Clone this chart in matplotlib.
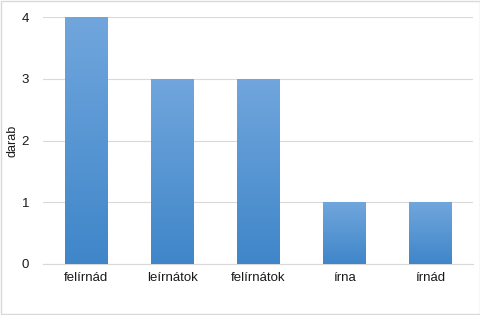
import numpy as np
import matplotlib
matplotlib.use('Agg')
import matplotlib.pyplot as plt
from matplotlib.colors import LinearSegmentedColormap
from matplotlib.patches import Rectangle

categories = ['felírnád', 'leírnátok', 'felírnátok', 'írna', 'írnád']
values = [4, 3, 3, 1, 1]
yticks = [0, 1, 2, 3, 4]

plt.rcParams['font.family'] = ['Liberation Sans', 'DejaVu Sans']

fig = plt.figure(figsize=(4.81, 3.15), dpi=100)
ax = fig.add_axes([43 / 481, 1 - 264 / 315, 430 / 481, 247 / 315])

x = np.arange(len(categories))
bars = ax.bar(x, values, width=0.5, facecolor='none', edgecolor='none', zorder=3)

cmap = LinearSegmentedColormap.from_list('grad', ['#3f86c9', '#71a6dd'])
grad = np.linspace(0, 1, 256).reshape(-1, 1)
for b in bars:
    x0 = b.get_x()
    w = b.get_width()
    h = b.get_height()
    im = ax.imshow(grad, extent=[x0, x0 + w, 0, h], origin='lower', aspect='auto',
                   cmap=cmap, zorder=3, interpolation='bilinear')
    im.set_clip_path(b)

ax.set_xlim(-0.5, len(categories) - 0.5)
ax.set_ylim(0, 4)
ax.set_yticks(yticks)
ax.set_xticks(x)
ax.set_xticklabels(categories, fontsize=9.5, color='#1a1a1a')
ax.tick_params(axis='y', labelsize=9.5, colors='#1a1a1a', length=0, pad=10)
ax.tick_params(axis='x', length=0, pad=6)
ax.yaxis.grid(True, color='#d9d9d9', linewidth=0.8, zorder=0)
ax.set_axisbelow(True)
for s in ['top', 'right', 'left']:
    ax.spines[s].set_visible(False)
ax.spines['bottom'].set_color('#d9d9d9')
ax.spines['bottom'].set_linewidth(0.8)
ax.set_ylabel('darab', fontsize=9, color='#1a1a1a')
ax.yaxis.set_label_coords(-0.057, 0.5)

fig.patches.append(Rectangle((0.002, 0.003), 0.996, 0.994, transform=fig.transFigure,
                             fill=False, edgecolor='#d9d9d9', linewidth=1))

fig.savefig('out.png', dpi=100)
